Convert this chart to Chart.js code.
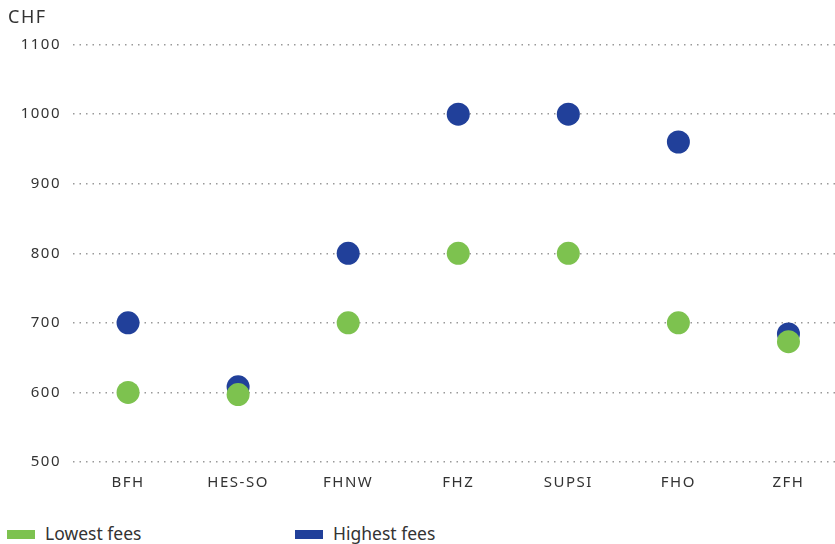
<!DOCTYPE html>
<html>
<head>
<meta charset="utf-8">
<script src="https://cdn.jsdelivr.net/npm/chart.js@4.4.0/dist/chart.umd.min.js"></script>
<style>
  html, body { margin: 0; padding: 0; background: #fff; overflow: hidden; width: 835px; height: 544px; }
  #wrap { position: absolute; left: 0; top: 0; width: 855px; height: 496px; }
  #legend { position: absolute; left: 7px; top: 521px; font-family: "Noto Sans", sans-serif; font-size: 17.5px; color: #333; }
  .item { position: absolute; top: 0; white-space: nowrap; }
  .sw { display: inline-block; width: 28px; height: 9px; vertical-align: middle; margin-right: 10px; position: relative; top: -1px; }
</style>
</head>
<body>
<div id="wrap"><canvas id="c" width="855" height="496"></canvas></div>
<div id="legend"></div>
<script>
const categories = ["BFH", "HES-SO", "FHNW", "FHZ", "SUPSI", "FHO", "ZFH"];
const lowestFees = [600, 597, 700, 800, 800, 700, 673];
const highestFees = [700, 608, 800, 1000, 1000, 960, 684];
const seriesNames = ["Lowest fees", "Highest fees"];
const seriesColors = ["#7dc24f", "#21409a"];
const yTicks = [500, 600, 700, 800, 900, 1000, 1100];
const unitLabel = "CHF";

const spacingPlugin = {
  id: 'spacing',
  beforeDraw(chart) { chart.ctx.letterSpacing = '1.5px'; },
  afterDraw(chart) { chart.ctx.letterSpacing = '0px'; }
};

new Chart(document.getElementById('c'), {
  type: 'line',
  data: {
    labels: categories,
    datasets: [
      { label: seriesNames[0], data: lowestFees, backgroundColor: seriesColors[0], borderColor: seriesColors[0],
        showLine: false, pointRadius: 11.5, pointHoverRadius: 11.5, pointBorderWidth: 0 },
      { label: seriesNames[1], data: highestFees, backgroundColor: seriesColors[1], borderColor: seriesColors[1],
        showLine: false, pointRadius: 11.5, pointHoverRadius: 11.5, pointBorderWidth: 0 }
    ]
  },
  options: {
    responsive: false,
    maintainAspectRatio: false,
    devicePixelRatio: 1,
    animation: false,
    layout: { padding: { left: 8, right: 2, top: 0, bottom: 0 } },
    plugins: {
      legend: { display: false },
      tooltip: { enabled: false },
      title: {
        display: true, text: unitLabel, align: 'start', color: '#333',
        font: { family: '"Noto Sans", sans-serif', size: 18, weight: 'normal' },
        padding: { top: 7, bottom: 16 }
      }
    },
    scales: {
      x: {
        type: 'category',
        offset: true,
        grid: { display: false },
        border: { display: false },
        ticks: { color: '#333', font: { family: '"Noto Sans", sans-serif', size: 15 }, padding: 4, maxRotation: 0 }
      },
      y: {
        min: 500, max: 1100,
        afterBuildTicks(scale) { scale.ticks = yTicks.map(v => ({ value: v })); },
        afterFit(scale) { scale.width = 65; },
        grid: { color: '#999', lineWidth: 1.5, drawTicks: false },
        border: { display: false, dash: [1.5, 5] },
        ticks: { color: '#333', font: { family: '"Noto Sans", sans-serif', size: 15 }, padding: 12,
                 callback: (v) => String(v) }
      }
    }
  },
  plugins: [spacingPlugin]
});

const lg = document.getElementById('legend');
const lefts = [0, 288];
seriesNames.forEach((n, i) => {
  const d = document.createElement('div');
  d.className = 'item';
  d.style.left = lefts[i] + 'px';
  d.innerHTML = '<span class="sw" style="background:' + seriesColors[i] + '"></span>' + n;
  lg.appendChild(d);
});
</script>
</body>
</html>
